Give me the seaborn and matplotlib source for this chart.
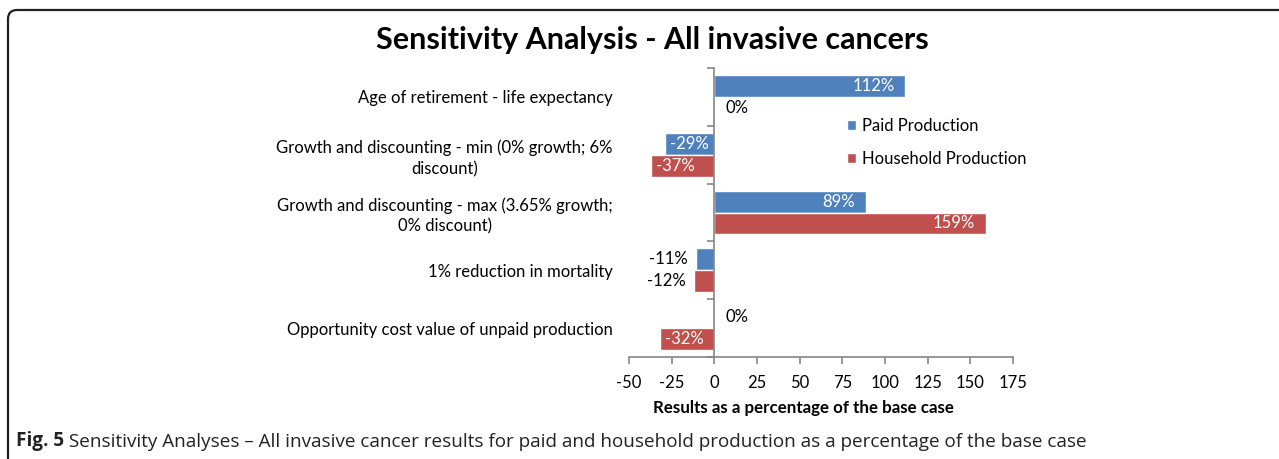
import pandas as pd
import matplotlib
matplotlib.use("Agg")
import matplotlib.pyplot as plt
import seaborn as sns
from matplotlib.path import Path
from matplotlib.patches import PathPatch

# chart data
scenarios = [
    "Age of retirement - life expectancy",
    "Growth and discounting - min (0% growth; 6%\ndiscount)",
    "Growth and discounting - max (3.65% growth;\n0% discount)",
    "1% reduction in mortality",
    "Opportunity cost value of unpaid production",
]
paid = [112, -29, 89, -11, 0]
household = [0, -37, 159, -12, -32]
series_names = ["Paid Production", "Household Production"]
series_colors = ["#4F81BD", "#C0504D"]
x_ticks = [-50, -25, 0, 25, 50, 75, 100, 125, 150, 175]

title = "Sensitivity Analysis - All invasive cancers"
x_title = "Results as a percentage of the base case"
caption_bold = "Fig. 5"
caption_rest = (" Sensitivity Analyses \u2013 All invasive cancer results for paid and "
                "household production as a percentage of the base case")

df = pd.DataFrame({
    "scenario": scenarios * 2,
    "series": [series_names[0]] * len(paid) + [series_names[1]] * len(household),
    "value": paid + household,
})

sns.set_theme(style="white")
plt.rcParams["font.family"] = ["Lato", "DejaVu Sans"]
plt.rcParams["text.color"] = "black"
plt.rcParams["axes.unicode_minus"] = False

W, H = 1279, 459
fig = plt.figure(figsize=(W / 100, H / 100), dpi=100)
ax = fig.add_axes([629 / W, 102 / H, 384 / W, 289 / H])

sns.barplot(data=df, x="value", y="scenario", hue="series", orient="h",
            palette=series_colors, width=0.76, saturation=1, errorbar=None,
            ax=ax)

ax.set_xlim(-50, 175)
ax.set_xticks(x_ticks)
ax.set_xlabel("")
ax.set_ylabel("")

fs = 12
axis_gray = "#868686"
for side in ["top", "right"]:
    ax.spines[side].set_visible(False)
ax.spines["left"].set_position(("data", 0))
ax.spines["left"].set_color(axis_gray)
ax.spines["bottom"].set_color(axis_gray)
ax.spines["left"].set_linewidth(1.2)
ax.spines["bottom"].set_linewidth(1.2)

ax.tick_params(axis="x", which="major", bottom=True, direction="out", length=5,
               width=1.2, color=axis_gray, labelsize=fs, labelcolor="black", pad=8)
ax.tick_params(axis="y", which="major", left=True, length=0, labelsize=fs,
               labelcolor="black", pad=73.4)
ax.set_yticks([i - 0.5 for i in range(len(scenarios) + 1)], minor=True)
ax.tick_params(axis="y", which="minor", left=True, direction="out", length=5,
               width=1.2, color=axis_gray)
for lab in ax.get_yticklabels():
    lab.set_multialignment("center")
    lab.set_linespacing(1.35)

# value labels
px = 72 / 100
for container, vals in zip(ax.containers, [paid, household]):
    for bar, v in zip(container, vals):
        yc = bar.get_y() + bar.get_height() / 2
        txt = f"{v}%"
        if v == 0:
            ax.annotate(txt, (0, yc), xytext=(11 * px, 0), textcoords="offset points",
                        ha="left", va="center", fontsize=fs, color="black")
        elif abs(v) < 15:
            ax.annotate(txt, (v, yc), xytext=(-8 * px, 0), textcoords="offset points",
                        ha="right", va="center", fontsize=fs, color="black")
        elif v > 0:
            ax.annotate(txt, (v, yc), xytext=(-11 * px, 0), textcoords="offset points",
                        ha="right", va="center", fontsize=fs, color="white")
        else:
            ax.annotate(txt, (v, yc), xytext=(5 * px, 0), textcoords="offset points",
                        ha="left", va="center", fontsize=fs, color="white")

handles, labels = ax.get_legend_handles_labels()
ax.legend(handles, labels, loc="center left", bbox_to_anchor=(847 / W, 1 - 142.5 / H),
          bbox_transform=fig.transFigure, frameon=False, handlelength=0.55,
          handleheight=0.55, handletextpad=0.35, labelspacing=1.0, borderpad=0,
          borderaxespad=0, fontsize=fs)

fig.text(652 / W, 1 - 40 / H, title, ha="center", va="center", fontsize=22,
         fontweight="bold")
fig.text(803.5 / W, 1 - 408 / H, x_title, ha="center", va="center", fontsize=12.2,
         fontweight="bold")

# rounded frame (top-left corner only visible)
r = 9
verts = [(8, H + 5), (8, 10 + r), (8, 10), (8 + r, 10), (W + 5, 10)]
verts = [(x / 100, (H - y) / 100) for x, y in verts]
codes = [Path.MOVETO, Path.LINETO, Path.CURVE3, Path.CURVE3, Path.LINETO]
fig.add_artist(PathPatch(Path(verts, codes), fill=False, lw=1.6, edgecolor="#222222",
                         transform=fig.dpi_scale_trans))

cap = fig.text(16 / W, 1 - 441 / H, caption_bold, ha="left", va="center",
               fontsize=13.6, fontweight="bold", family=["Open Sans", "DejaVu Sans"],
               color="#222222")
fig.add_artist(matplotlib.text.Annotation(
    caption_rest, xy=(1, 0), xycoords=cap, ha="left", va="bottom", fontsize=13.6,
    family=["Open Sans", "DejaVu Sans"], color="#222222"))

fig.savefig("out.png", dpi=100)
